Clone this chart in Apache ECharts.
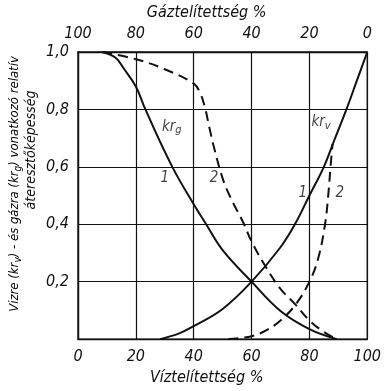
<!DOCTYPE html>
<html>
<head>
<meta charset="utf-8">
<script src="https://cdn.jsdelivr.net/npm/echarts@6/dist/echarts.min.js"></script>
<style>
html,body{margin:0;padding:0;background:#fff}
#main{width:384px;height:391px}
</style>
</head>
<body>
<div id="main"></div>
<script>
// víztelítettség (%) - relatív áteresztőképesség pontok, leolvasva
const krgSolid = [[8.4,1.0],[13,0.98],[16,0.94],[20,0.88],[23.3,0.8],[32.6,0.6],[40,0.47],[44.3,0.4],[50,0.31],[60,0.2],[70,0.098],[80,0.035],[89.5,0]];
const krgDashed = [[8.4,1.0],[20,0.975],[30,0.94],[40,0.89],[42.1,0.86],[43.8,0.81],[45.5,0.733],[47.2,0.66],[50,0.56],[52.4,0.5],[57.4,0.4],[60,0.34],[65,0.25],[70,0.175],[75.2,0.12],[80,0.065],[85,0.025],[89.5,0]];
const krvSolid = [[28.4,0],[35,0.02],[40,0.045],[50,0.105],[60,0.2],[70,0.32],[75,0.4],[80,0.5],[85,0.6],[88.5,0.69],[92.8,0.8],[96.4,0.9],[100,1.0]];
const krvDashed = [[52,0],[60,0.01],[65,0.03],[70,0.065],[75.2,0.12],[80,0.2],[83,0.28],[85.4,0.4],[86.5,0.5],[87.3,0.6],[88,0.68]];
// görbefeliratok: szöveg, index, x, y
const curveLabels = [['kr','g',32.4,0.74],['1','',30,0.56],['2','',47,0.56],['kr','v',84,0.755],['1','',77.7,0.51],['2','',90.5,0.51]];
const xTitle = 'Víztelítettség %';
const topTitle = 'Gáztelítettség %';

const FONT = "'Liberation Sans Narrow','DejaVu Sans Condensed','Liberation Sans',sans-serif";
const black = '#111';

const chart = echarts.init(document.getElementById('main'));

const lineSeries = (data, dashed) => ({
  type: 'line',
  data: data,
  smooth: 0.4,
  symbol: 'none',
  silent: true,
  lineStyle: { color: black, width: 2, type: dashed ? [10, 6] : 'solid' }
});

const txt = (size) => ({ fontSize: size, fontStyle: 'italic', fontFamily: FONT, color: black });

const rich = {
  t: txt(15),
  s: Object.assign(txt(11), { padding: [7, 0, 0, 0] })
};
const richSmall = {
  t: txt(13),
  s: Object.assign(txt(10), { padding: [6, 0, 0, 0] })
};

let option = {
  animation: false,
  textStyle: { fontFamily: FONT, fontStyle: 'italic', color: black },
  grid: { left: 78, right: 10, top: 52, bottom: 42, show: true, borderColor: black, borderWidth: 1.3 },
  xAxis: [
    {
      type: 'value', min: 0, max: 100, interval: 20, position: 'bottom',
      name: xTitle, nameLocation: 'middle', nameGap: 24,
      nameTextStyle: Object.assign(txt(16), { padding: [0, 32, 0, 0] }),
      axisLine: { show: true, lineStyle: { color: black, width: 1.3 } },
      axisTick: { show: false },
      axisLabel: Object.assign(txt(16), { margin: 10 }),
      splitLine: { show: true, lineStyle: { color: black, width: 1.2 } }
    },
    {
      type: 'value', min: 0, max: 100, interval: 20, position: 'top', inverse: true,
      name: topTitle, nameLocation: 'middle', nameGap: 28,
      nameTextStyle: Object.assign(txt(16), { padding: [0, 32, 0, 0] }),
      axisLine: { show: true, lineStyle: { color: black, width: 1.3 } },
      axisTick: { show: false },
      axisLabel: Object.assign(txt(16), { margin: 10 }),
      splitLine: { show: false }
    }
  ],
  yAxis: {
    type: 'value', min: 0, max: 1, interval: 0.2,
    axisLine: { show: true, lineStyle: { color: black, width: 1.3 } },
    axisTick: { show: false },
    axisLabel: Object.assign(txt(16), {
      margin: 9,
      formatter: v => v === 0 ? '' : v.toFixed(1).replace('.', ',')
    }),
    splitLine: { show: true, lineStyle: { color: black, width: 1.2 } }
  },
  series: [
    lineSeries(krgSolid, false),
    lineSeries(krgDashed, true),
    lineSeries(krvSolid, false),
    lineSeries(krvDashed, true),
    {
      type: 'scatter',
      symbolSize: 0,
      silent: true,
      data: curveLabels.map(l => ({ value: [l[2], l[3]], main: l[0], sub: l[1] })),
      label: {
        show: true,
        position: 'inside',
        formatter: p => '{t|' + p.data.main + '}' + (p.data.sub ? '{s|' + p.data.sub + '}' : ''),
        rich: rich
      }
    }
  ],
  graphic: [
    {
      type: 'text', x: 15, y: 184, rotation: Math.PI / 2,
      style: {
        text: '{t|Vizre (kr}{s|v}{t|) - és gázra (kr}{s|g}{t|) vonatkozó relatív}',
        rich: richSmall, align: 'center', verticalAlign: 'middle'
      }
    },
    {
      type: 'text', x: 31, y: 150, rotation: Math.PI / 2,
      style: {
        text: 'áteresztőképesség', font: 'italic 14px ' + FONT, fill: black,
        align: 'center', verticalAlign: 'middle'
      }
    }
  ]
};

chart.setOption(option);
window.addEventListener('resize', chart.resize);
</script>
</body>
</html>
